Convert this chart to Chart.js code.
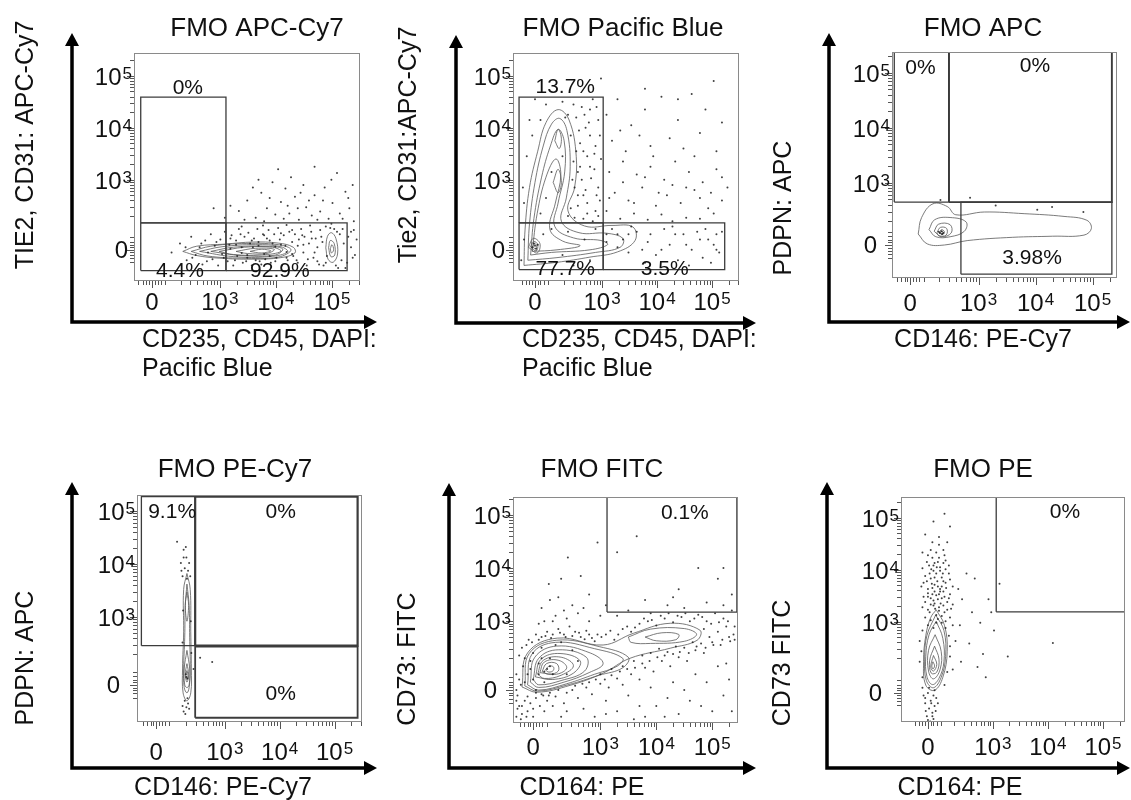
<!DOCTYPE html>
<html>
<head>
<meta charset="utf-8">
<title>FMO controls</title>
<script src="https://cdn.jsdelivr.net/npm/chart.js@4.4.1/dist/chart.umd.min.js"></script>
<style>
  body { margin: 0; background: #fff; }
  #wrap { position: relative; width: 1131px; height: 800px; overflow: hidden; background: #fff; }
  #wrap canvas { position: absolute; }
</style>
</head>
<body>
<div id="wrap">
  <canvas id="p1"></canvas>
  <canvas id="p2"></canvas>
  <canvas id="p3"></canvas>
  <canvas id="p4"></canvas>
  <canvas id="p5"></canvas>
  <canvas id="p6"></canvas>
</div>
<script>
// axis units: 1 = one decade, 0 = zero of the biexponential display
var tickLabels = ['0', '10^3', '10^4', '10^5'];

var titles = ['FMO APC-Cy7', 'FMO Pacific Blue', 'FMO APC', 'FMO PE-Cy7', 'FMO FITC', 'FMO PE'];
var xTitles = [
  ['CD235, CD45, DAPI:', 'Pacific Blue'],
  ['CD235, CD45, DAPI:', 'Pacific Blue'],
  ['CD146: PE-Cy7'],
  ['CD146: PE-Cy7'],
  ['CD164: PE'],
  ['CD164: PE'],
];
var yTitles = ['TIE2, CD31: APC-Cy7', 'Tie2, CD31:APC-Cy7', 'PDPN: APC', 'PDPN: APC', 'CD73: FITC', 'CD73 FITC'];

// ---------- FMO APC-Cy7 ----------
var p1XTicks = [0, 1.21, 2.21, 3.21];
var p1YTicks = [0, 1.35, 2.35, 3.35];
var p1XRange = [-0.32, 3.71];
var p1YRange = [-0.6, 3.79];
var p1Gates = [[-0.2, 0.52, 1.32, 2.94], [-0.2, -0.4, 1.32, 0.52], [1.32, -0.4, 3.48, 0.52]];
var p1GateLabels = [['0%', 0.64, 3.12], ['4.4%', 0.5, -0.42], ['92.9%', 2.28, -0.42]];
var p1Contours = [
  [[0.55, -0.03], [0.8, 0.07], [1.3, 0.11], [1.8, 0.15], [2.25, 0.13], [2.52, 0.05], [2.55, -0.06], [2.3, -0.15], [1.8, -0.18], [1.2, -0.16], [0.8, -0.11], [0.55, -0.03]],
  [[0.7, -0.03], [1.05, 0.07], [1.6, 0.12], [2.25, 0.1], [2.48, 0.0], [2.25, -0.14], [1.6, -0.16], [1.0, -0.12], [0.7, -0.03]],
  [[0.85, -0.03], [1.25, 0.06], [1.85, 0.1], [2.3, 0.06], [2.42, -0.04], [2.1, -0.13], [1.45, -0.13], [0.85, -0.03]],
  [[1.05, -0.03], [1.45, 0.05], [2.0, 0.07], [2.33, 0.02], [2.2, -0.1], [1.6, -0.11], [1.05, -0.03]],
  [[1.2, -0.03], [1.65, 0.05], [2.15, 0.05], [2.3, -0.03], [1.95, -0.1], [1.45, -0.09], [1.2, -0.03]],
  [[1.5, -0.03], [1.85, 0.03], [2.18, 0.01], [2.05, -0.07], [1.7, -0.07], [1.5, -0.03]],
  [[1.75, -0.03], [1.95, 0.01], [2.12, -0.02], [1.95, -0.06], [1.75, -0.03]],
  [[3.1, 0.04], [3.13, 0.26], [3.2, 0.33], [3.28, 0.22], [3.31, -0.08], [3.23, -0.24], [3.14, -0.18], [3.1, 0.04]],
  [[3.15, 0.04], [3.18, 0.18], [3.25, 0.12], [3.26, -0.1], [3.19, -0.13], [3.15, 0.04]],
  [[3.18, 0.02], [3.21, 0.1], [3.24, 0.0], [3.2, -0.06], [3.18, 0.02]],
];
var p1Dots = [
  [0.35, -0.05], [0.5, 0.12], [0.62, -0.2], [0.7, 0.25], [0.78, -0.1], [0.85, 0.05], [0.9, -0.28], [0.95, 0.18], [1.0, -0.05], [1.05, 0.3],
  [1.08, -0.18], [1.12, 0.08], [1.18, -0.3], [1.22, 0.2], [1.25, -0.08], [1.3, 0.35], [1.35, -0.22], [1.38, 0.1], [1.42, 0.28], [1.45, -0.3],
  [1.5, 0.18], [1.52, -0.12], [1.55, 0.4], [1.6, 0.05], [1.62, -0.25], [1.65, 0.25], [1.7, -0.15], [1.72, 0.33], [1.75, 0.12], [1.78, -0.3],
  [1.82, 0.22], [1.85, -0.2], [1.88, 0.4], [1.9, 0.15], [1.95, -0.28], [1.98, 0.3], [2.02, -0.18], [2.05, 0.22], [2.08, 0.38], [2.12, -0.25],
  [2.15, 0.12], [2.18, 0.3], [2.22, -0.15], [2.25, 0.42], [2.28, 0.2], [2.32, -0.3], [2.35, 0.28], [2.38, 0.08], [2.42, -0.2], [2.45, 0.35],
  [2.5, 0.15], [2.52, -0.12], [2.55, 0.3], [2.6, -0.25], [2.62, 0.2], [2.66, 0.4], [2.7, -0.05], [2.72, 0.25], [2.76, -0.3], [2.8, 0.12],
  [2.84, 0.35], [2.88, -0.15], [2.92, 0.22], [2.95, 0.05], [2.98, -0.28], [3.0, 0.38], [3.04, 0.15], [3.06, -0.3], [3.1, 0.45], [3.35, 0.3],
  [3.38, -0.2], [3.42, 0.12], [3.45, -0.35], [3.5, 0.25], [3.55, 0.05], [3.58, -0.15], [3.6, 0.38],
  [1.55, 0.75], [1.7, 0.95], [1.85, 0.62], [1.95, 1.1], [2.05, 0.8], [2.15, 1.3], [2.2, 0.68], [2.3, 0.92], [2.38, 1.18], [2.45, 0.7],
  [2.55, 1.02], [2.62, 0.58], [2.7, 1.25], [2.75, 0.82], [2.85, 0.66], [2.9, 1.05], [3.0, 0.74], [3.08, 1.2], [3.15, 0.6], [3.22, 0.9],
  [3.3, 1.48], [3.35, 0.7], [3.45, 1.12], [3.52, 0.8], [3.6, 0.55], [1.3, 0.62], [1.1, 0.8], [2.48, 1.4], [1.9, 1.35],
  [1.4, 0.02], [1.6, -0.06], [1.8, 0.05], [2.0, -0.08], [2.2, 0.06], [2.4, -0.04], [2.6, 0.08], [1.5, 0.1], [1.7, -0.1], [1.9, 0.08],
  [2.1, -0.12], [2.3, 0.1], [2.5, -0.08], [2.7, 0.1], [2.9, -0.05], [3.12, -0.12], [3.25, 0.4], [3.28, -0.3],
  [0.6, 0.05], [0.72, -0.15], [0.88, 0.12], [0.98, -0.22], [1.15, 0.15], [1.28, -0.15], [1.4, 0.22], [1.48, -0.2], [1.58, 0.3], [1.68, -0.22],
  [1.78, 0.18], [1.92, -0.22], [2.0, 0.28], [2.1, 0.18], [2.2, -0.22], [2.3, 0.32], [2.4, -0.15], [2.5, 0.38], [2.58, -0.2], [2.68, 0.28],
  [2.78, -0.18], [2.85, 0.22], [2.95, -0.22], [3.02, 0.25], [3.1, -0.25], [3.18, 0.42], [3.3, 0.35], [3.32, -0.35], [3.4, 0.4], [3.48, -0.25],
  [3.55, 0.35], [3.62, -0.1], [3.65, 0.2], [1.6, 0.45], [1.98, 0.47], [2.4, 0.48], [2.82, 0.47], [3.2, 0.5],
  [1.4, 0.85], [1.65, 0.58], [1.8, 1.2], [2.0, 0.55], [2.1, 1.0], [2.35, 0.6], [2.42, 0.85], [2.6, 0.8], [2.65, 1.1], [2.8, 0.95],
  [2.95, 0.58], [3.05, 0.95], [3.2, 1.35], [3.4, 0.6], [3.5, 1.0], [3.58, 1.25], [2.25, 1.55], [2.9, 1.6],
];

// ---------- FMO Pacific Blue ----------
var p2XTicks = [0, 1.22, 2.22, 3.22];
var p2YTicks = [0, 1.35, 2.35, 3.35];
var p2XRange = [-0.4, 3.71];
var p2YRange = [-0.6, 3.79];
var p2Gates = [[-0.29, 0.52, 1.24, 2.94], [-0.29, -0.38, 1.24, 0.52], [1.24, -0.38, 3.45, 0.52]];
var p2GateLabels = [['13.7%', 0.55, 3.13], ['77.7%', 0.55, -0.38], ['3.5%', 2.36, -0.38]];
var p2Contours = [
  [[-0.2, -0.3], [-0.18, 0.4], [-0.1, 1.2], [0.05, 1.9], [0.2, 2.45], [0.42, 2.7], [0.62, 2.5], [0.75, 1.8], [0.72, 1.2], [0.6, 0.75], [0.9, 0.46], [1.4, 0.47], [1.78, 0.44], [1.82, 0.18], [1.5, -0.04], [1.0, -0.14], [0.4, -0.24], [-0.2, -0.3]],
  [[-0.13, -0.2], [-0.1, 0.5], [0.0, 1.3], [0.15, 2.0], [0.3, 2.42], [0.45, 2.53], [0.58, 2.3], [0.64, 1.6], [0.57, 1.0], [0.48, 0.55], [0.8, 0.33], [1.3, 0.32], [1.6, 0.22], [1.55, 0.05], [1.1, -0.05], [0.4, -0.15], [-0.13, -0.2]],
  [[-0.08, -0.1], [-0.02, 0.6], [0.12, 1.4], [0.28, 2.0], [0.42, 2.32], [0.53, 2.1], [0.54, 1.5], [0.42, 0.9], [0.36, 0.45], [0.7, 0.23], [1.2, 0.18], [1.32, 0.1], [1.0, 0.0], [0.3, -0.05], [-0.08, -0.1]],
  [[-0.05, -0.03], [0.04, 0.7], [0.2, 1.4], [0.38, 1.75], [0.47, 1.45], [0.37, 0.9], [0.27, 0.4], [0.5, 0.17], [0.82, 0.08], [0.4, 0.0], [-0.05, -0.03]],
  [[0.36, 2.1], [0.42, 2.32], [0.48, 2.15], [0.44, 1.95], [0.36, 2.1]],
  [[0.33, 1.3], [0.42, 1.55], [0.48, 1.3], [0.42, 1.1], [0.33, 1.3]],
  [[-0.12, 0.05], [-0.03, 0.22], [0.09, 0.12], [0.04, -0.06], [-0.12, 0.05]],
  [[-0.08, 0.06], [-0.02, 0.16], [0.05, 0.1], [0.02, -0.02], [-0.08, 0.06]],
  [[-0.04, 0.07], [0.0, 0.12], [0.03, 0.07], [0.0, 0.02], [-0.04, 0.07]],
];
var p2Dots = [
  [0.7, 2.8], [0.9, 2.6], [1.05, 2.9], [0.8, 2.3], [1.0, 2.2], [1.15, 2.5], [0.75, 1.9], [0.95, 1.8], [1.1, 2.0], [0.78, 1.5],
  [0.85, 1.35], [1.0, 1.6], [1.15, 1.2], [0.78, 1.05], [0.95, 0.9], [1.1, 0.75], [0.65, 0.8], [0.88, 0.6], [1.05, 0.55], [1.18, 0.95],
  [0.6, 2.6], [0.2, 2.8], [-0.1, 2.5], [-0.15, 1.8], [0.0, 2.9], [1.2, 1.75], [0.72, 1.2], [1.12, 2.75], [0.92, 1.15], [0.82, 2.05],
  [1.02, 1.38], [-0.22, 1.2], [0.72, 0.62], [0.5, 2.85], [1.18, 2.2], [0.98, 2.45], [0.85, 2.75], [1.08, 1.85],
  [0.65, 2.2], [0.75, 2.55], [0.7, 1.7], [0.82, 1.6], [0.88, 1.9], [0.92, 2.35], [1.0, 2.7], [0.78, 0.85], [0.95, 0.7], [1.12, 1.05],
  [0.68, 1.35], [0.6, 0.65], [1.08, 1.55], [1.15, 0.65], [0.88, 1.05], [-0.05, 2.2], [0.1, 2.5], [-0.2, 0.9],
  [1.3, 2.6], [1.5, 2.9], [1.75, 2.4], [2.0, 2.7], [2.3, 2.95], [2.6, 2.5], [2.85, 3.0], [3.1, 2.7], [3.4, 2.45], [1.4, 2.1],
  [1.65, 1.9], [1.9, 2.2], [2.15, 1.8], [2.45, 2.15], [2.7, 1.95], [3.0, 2.25], [3.3, 1.9], [1.35, 1.5], [1.6, 1.7], [1.85, 1.45],
  [2.1, 1.6], [2.35, 1.35], [2.55, 1.7], [2.8, 1.5], [3.05, 1.3], [3.3, 1.55], [3.5, 1.2], [1.45, 1.1], [1.7, 0.95], [1.95, 1.2],
  [2.2, 0.85], [2.4, 1.05], [2.65, 0.9], [2.9, 1.15], [3.15, 0.8], [3.4, 0.95], [1.3, 0.75], [1.55, 0.6], [1.8, 0.7], [2.05, 0.58],
  [2.3, 0.68], [2.5, 0.55], [2.75, 0.62], [3.0, 0.6], [3.25, 0.7], [2.0, 3.1], [3.25, 3.25], [1.2, 3.3],
  [1.35, 1.0], [1.6, 1.3], [1.8, 0.9], [2.0, 1.4], [2.25, 1.1], [2.5, 1.25], [2.75, 1.2], [3.0, 1.0], [3.2, 1.1], [3.4, 1.4],
  [2.1, 2.0], [2.6, 2.9], [2.9, 1.8], [1.55, 2.3],
  [1.4, 0.4], [1.6, 0.2], [1.85, 0.35], [1.95, 0.0], [2.1, 0.3], [2.2, -0.1], [2.35, 0.4], [2.45, 0.1], [2.6, -0.2], [2.7, 0.3],
  [2.85, 0.0], [2.95, 0.35], [3.05, -0.15], [3.15, 0.2], [3.25, 0.1], [3.3, 0.0], [3.35, -0.05], [3.4, 0.35], [2.5, 0.45], [2.0, -0.25],
  [1.7, -0.05], [2.8, -0.3], [3.2, -0.25], [1.3, 0.3], [1.5, 0.05], [1.75, 0.45], [2.05, 0.15], [2.3, 0.0], [2.55, 0.3], [2.75, 0.1],
  [3.0, 0.2], [3.3, 0.3], [3.1, 0.4],
  [0.6, 0.35], [0.9, 0.2], [1.1, 0.4], [0.3, 0.4], [0.7, -0.3], [1.0, -0.2], [0.5, -0.1], [0.15, 0.3], [-0.2, 0.2], [-0.25, -0.2],
  [0.3, 1.5], [0.5, 1.8], [0.2, 1.0], [0.55, 2.55], [0.1, 0.7], [1.5, 0.3], [1.3, 0.15], [1.7, 0.3],
  [-0.05, 0.05], [0.0, 0.08], [0.02, 0.02], [-0.02, 0.12], [0.05, 0.1],
];

// ---------- FMO APC ----------
var p3XTicks = [0, 1.2, 2.2, 3.2];
var p3YTicks = [0, 1.13, 2.13, 3.13];
var p3XRange = [-0.32, 3.63];
var p3YRange = [-0.6, 3.51];
var p3Gates = [[-0.28, 0.78, 0.68, 3.51], [0.68, 0.78, 3.54, 3.51], [0.89, -0.53, 3.54, 0.78]];
var p3GateLabels = [['0%', 0.18, 3.22], ['0%', 2.19, 3.26], ['3.98%', 2.14, -0.24]];
var p3Contours = [
  [[0.14, 0.2], [0.2, 0.5], [0.4, 0.75], [0.65, 0.7], [0.8, 0.55], [1.3, 0.6], [2.0, 0.57], [2.7, 0.52], [3.1, 0.45], [3.18, 0.3], [3.05, 0.18], [2.5, 0.16], [1.8, 0.14], [1.0, 0.08], [0.6, 0.0], [0.3, 0.02], [0.14, 0.2]],
  [[0.33, 0.28], [0.43, 0.46], [0.7, 0.5], [0.98, 0.42], [0.95, 0.25], [0.7, 0.15], [0.45, 0.15], [0.33, 0.28]],
  [[0.42, 0.25], [0.5, 0.38], [0.7, 0.37], [0.72, 0.22], [0.55, 0.15], [0.42, 0.25]],
  [[0.47, 0.23], [0.53, 0.32], [0.64, 0.3], [0.63, 0.18], [0.5, 0.17], [0.47, 0.23]],
  [[0.51, 0.22], [0.55, 0.28], [0.6, 0.24], [0.57, 0.19], [0.51, 0.22]],
  [[0.53, 0.22], [0.55, 0.25], [0.58, 0.23], [0.55, 0.2], [0.53, 0.22]],
];
var p3Dots = [
  [0.53, 0.82], [1.05, 0.86], [2.23, 0.64], [2.49, 0.69], [3.04, 0.6], [1.5, 0.72],
  [0.52, 0.22], [0.56, 0.2], [0.55, 0.25], [0.5, 0.24], [0.58, 0.22],
];

// ---------- FMO PE-Cy7 ----------
var p4XTicks = [0, 1.25, 2.25, 3.25];
var p4YTicks = [0, 1.28, 2.28, 3.28];
var p4XRange = [-0.35, 3.75];
var p4YRange = [-0.7, 3.58];
var p4Gates = [[-0.27, 0.74, 0.71, 3.55], [0.71, 0.74, 3.67, 3.55], [0.71, -0.62, 3.67, 0.72]];
var p4GateLabels = [['9.1%', 0.29, 3.25], ['0%', 2.27, 3.26], ['0%', 2.27, -0.17]];
var p4Contours = [
  [[0.56, 2.1], [0.62, 1.8], [0.63, 1.0], [0.64, 0.3], [0.63, -0.15], [0.56, -0.3], [0.49, -0.15], [0.48, 0.3], [0.5, 1.0], [0.5, 1.8], [0.56, 2.1]],
  [[0.56, 1.9], [0.6, 1.5], [0.61, 0.9], [0.62, 0.3], [0.6, -0.05], [0.56, -0.15], [0.51, -0.05], [0.5, 0.3], [0.52, 0.9], [0.53, 1.5], [0.56, 1.9]],
  [[0.56, 1.75], [0.59, 1.5], [0.56, 1.2], [0.53, 1.5], [0.56, 1.75]],
  [[0.56, 0.65], [0.61, 0.3], [0.6, 0.0], [0.56, -0.05], [0.52, 0.0], [0.51, 0.3], [0.56, 0.65]],
  [[0.56, 0.4], [0.59, 0.2], [0.56, 0.05], [0.53, 0.2], [0.56, 0.4]],
  [[0.56, 0.27], [0.58, 0.17], [0.56, 0.1], [0.54, 0.17], [0.56, 0.27]],
];
var p4Dots = [
  [0.38, 2.7], [0.5, 2.55], [0.55, 2.4], [0.45, 2.3], [0.52, 2.2], [0.58, 2.15], [0.48, 2.05], [0.56, 2.0], [0.6, 2.3], [0.5, 2.4],
  [0.54, 2.6], [0.46, 2.15], [0.62, 2.05], [0.49, 1.4], [0.63, 1.2], [0.48, 0.8], [0.64, 0.6],
  [0.52, -0.3], [0.58, -0.35], [0.55, -0.42], [0.5, -0.5], [0.6, -0.45], [0.53, -0.55], [0.57, -0.25], [0.48, -0.4],
  [0.8, 0.51], [1.02, 0.43], [0.68, 0.3], [0.55, 0.15], [0.57, 0.12], [0.54, 0.2],
];

// ---------- FMO FITC ----------
var p5XTicks = [0, 1.2, 2.2, 3.2];
var p5YTicks = [0, 1.3, 2.3, 3.3];
var p5XRange = [-0.36, 3.66];
var p5YRange = [-0.62, 3.64];
var p5Gates = [[1.32, 1.47, 3.64, 3.64]];
var p5GateLabels = [['0.1%', 2.71, 3.34]];
var p5Contours = [
  [[-0.2, 0.06], [-0.1, 0.7], [0.43, 0.98], [1.25, 0.85], [1.79, 1.07], [2.45, 1.26], [2.98, 1.13], [2.93, 0.94], [2.45, 0.79], [1.73, 0.6], [1.25, 0.32], [0.66, 0.09], [0.07, -0.04], [-0.2, 0.06]],
  [[-0.15, 0.08], [-0.07, 0.69], [0.42, 0.94], [1.18, 0.82], [1.7, 0.62], [1.6, 0.42], [1.18, 0.28], [0.62, 0.1], [0.08, -0.02], [-0.15, 0.08]],
  [[-0.1, 0.1], [-0.02, 0.68], [0.4, 0.9], [1.1, 0.78], [1.6, 0.6], [1.5, 0.45], [1.1, 0.3], [0.6, 0.12], [0.1, 0.0], [-0.1, 0.1]],
  [[-0.05, 0.15], [0.03, 0.62], [0.42, 0.83], [1.02, 0.7], [1.25, 0.5], [1.0, 0.33], [0.55, 0.15], [0.1, 0.05], [-0.05, 0.15]],
  [[0.0, 0.2], [0.1, 0.6], [0.45, 0.76], [0.95, 0.62], [0.92, 0.36], [0.5, 0.18], [0.1, 0.1], [0.0, 0.2]],
  [[0.04, 0.25], [0.14, 0.58], [0.48, 0.69], [0.84, 0.55], [0.72, 0.32], [0.35, 0.2], [0.04, 0.25]],
  [[0.08, 0.3], [0.18, 0.56], [0.5, 0.62], [0.72, 0.46], [0.5, 0.28], [0.2, 0.22], [0.08, 0.3]],
  [[0.12, 0.33], [0.2, 0.53], [0.46, 0.56], [0.6, 0.42], [0.42, 0.3], [0.12, 0.33]],
  [[0.16, 0.35], [0.24, 0.5], [0.42, 0.5], [0.45, 0.36], [0.28, 0.3], [0.16, 0.35]],
  [[0.22, 0.38], [0.28, 0.45], [0.36, 0.44], [0.36, 0.37], [0.28, 0.34], [0.22, 0.38]],
  [[1.7, 1.0], [2.1, 1.15], [2.7, 1.16], [2.92, 1.05], [2.7, 0.92], [2.1, 0.88], [1.75, 0.9], [1.7, 1.0]],
  [[2.0, 1.0], [2.3, 1.08], [2.6, 1.05], [2.55, 0.95], [2.2, 0.93], [2.0, 1.0]],
];
var p5Dots = [
  [-0.3, -0.5], [-0.25, -0.3], [-0.2, -0.45], [-0.28, -0.1], [-0.15, -0.2], [-0.1, -0.4], [-0.22, 0.1], [-0.3, 0.3], [-0.18, 0.45], [-0.25, 0.65],
  [-0.12, 0.85], [-0.05, -0.25], [0.0, -0.35], [0.05, -0.15], [0.12, -0.3], [0.18, -0.1], [0.25, -0.2], [0.3, -0.05], [-0.08, 0.95], [0.05, 1.05],
  [0.15, 1.0], [0.25, 1.1], [0.35, 1.05], [0.45, 1.15], [0.55, 1.05], [0.65, 1.2], [0.75, 1.1], [0.85, 1.0], [0.95, 1.12], [1.05, 0.98],
  [1.15, 1.05], [0.2, 1.3], [0.4, 1.4], [0.6, 1.35], [0.8, 1.45], [1.0, 1.3], [0.3, 1.7], [0.7, 1.6], [0.5, 2.1], [0.28, 2.0],
  [0.62, 2.5], [1.15, 2.78],
  [0.4, -0.12], [0.55, -0.25], [0.7, 0.0], [0.8, -0.15], [0.95, 0.05], [1.05, -0.08], [1.2, 0.12], [1.35, 0.05], [1.5, 0.22], [1.6, 0.1],
  [1.75, 0.3], [1.9, 0.2], [2.0, 0.42], [2.15, 0.35], [2.3, 0.55], [2.45, 0.45], [2.6, 0.62], [2.75, 0.55], [2.9, 0.75], [3.05, 0.7],
  [3.2, 0.9], [3.35, 0.85], [3.5, 1.0], [3.6, 0.95], [1.3, -0.2], [1.7, -0.1], [2.1, 0.05], [2.5, 0.15], [2.9, 0.3], [3.3, 0.45],
  [0.9, -0.35], [1.5, -0.4], [2.2, -0.3], [2.8, -0.2], [3.4, -0.1], [2.0, -0.5], [1.1, -0.5],
  [1.3, 1.05], [1.45, 0.95], [1.6, 1.15], [1.75, 1.1], [1.9, 1.25], [2.05, 1.3], [2.2, 1.22], [2.35, 1.35], [2.5, 1.28], [2.65, 1.38],
  [2.8, 1.3], [2.95, 1.42], [3.1, 1.3], [3.25, 1.45], [3.4, 1.35], [3.55, 1.5], [3.6, 1.2], [3.05, 1.15], [3.3, 1.1], [3.45, 1.2],
  [2.1, 1.45], [2.7, 1.55], [3.4, 1.6], [2.4, 1.6], [1.5, 1.4],
  [1.8, 0.55], [1.95, 0.65], [2.1, 0.7], [2.25, 0.78], [2.4, 0.72], [2.55, 0.82], [2.7, 0.8], [2.85, 0.9], [3.0, 0.88], [3.15, 1.0],
  [1.6, 0.45], [1.4, 0.4], [1.2, 0.3],
  [0.0, 0.2], [0.1, 0.5], [0.2, 0.15], [0.3, 0.6], [0.15, 0.8], [-0.05, 0.55], [0.4, 0.85], [0.5, 0.9], [0.6, 0.3], [0.7, 0.75],
  [0.8, 0.55], [0.35, 0.3], [-0.1, 0.3], [0.05, 0.0], [0.25, 0.4], [0.3, 0.45], [0.2, 0.35],
  [1.5, 2.6], [1.85, 2.9], [2.6, 1.9], [3.3, 2.1], [3.4, 2.3], [2.95, 2.3],
  [0.5, -0.5], [1.8, -0.55], [2.6, -0.45], [3.2, -0.4], [3.5, 0.2],
  [-0.02, 0.9], [0.1, 0.95], [0.22, 1.02], [0.32, 0.98], [0.48, 1.08], [0.58, 1.0], [0.7, 1.02], [0.82, 1.08], [0.92, 0.96], [1.0, 1.05],
  [1.1, 0.92], [1.22, 1.0], [1.38, 1.12], [1.52, 1.05], [1.68, 1.2], [1.82, 1.18], [1.98, 1.35], [2.12, 1.32], [2.28, 1.4], [2.42, 1.45],
  [2.58, 1.4], [2.72, 1.45], [2.88, 1.35], [3.02, 1.38], [3.18, 1.25], [3.32, 1.28], [3.48, 1.3], [3.58, 1.05],
  [0.15, -0.08], [0.28, -0.1], [0.45, 0.0], [0.6, -0.05], [0.75, 0.08], [0.88, 0.12], [1.0, 0.15], [1.12, 0.2], [1.28, 0.2], [1.4, 0.28],
  [1.55, 0.35], [1.68, 0.4], [1.82, 0.42], [1.95, 0.5], [2.08, 0.55], [2.22, 0.62], [2.35, 0.65], [2.5, 0.68], [2.62, 0.72], [2.78, 0.7],
  [2.92, 0.82], [3.08, 0.8], [3.22, 0.85], [3.38, 0.95], [3.52, 0.92],
  [-0.28, -0.35], [-0.3, 0.0], [-0.2, -0.3], [-0.25, 0.2], [-0.15, 0.6], [-0.2, 0.8], [-0.1, -0.12], [-0.05, 0.4], [-0.15, 0.15], [0.0, 0.7],
  [0.1, 0.3], [0.15, 0.6], [0.05, -0.05], [-0.3, -0.2], [-0.22, -0.55], [-0.12, -0.5], [0.0, -0.5], [0.2, -0.4], [0.35, -0.3],
  [0.1, 1.25], [0.35, 1.3], [0.55, 1.5], [0.9, 1.55], [1.2, 1.4], [0.15, 1.55], [0.45, 1.75], [1.0, 1.8], [1.3, 1.6], [0.85, 2.15],
  [1.7, 1.5], [2.0, 1.7], [2.5, 1.75], [3.1, 1.65], [3.55, 1.8],
  [0.6, -0.4], [1.3, -0.45], [2.4, -0.15], [2.7, 0.0], [3.0, -0.3], [3.55, -0.4], [1.9, -0.3], [2.35, -0.5], [3.1, 0.15], [3.45, 0.5],
];

// ---------- FMO PE ----------
var p6XTicks = [0, 1.18, 2.18, 3.18];
var p6YTicks = [0, 1.37, 2.37, 3.37];
var p6XRange = [-0.49, 3.58];
var p6YRange = [-0.56, 3.77];
var p6Gates = [[1.24, 1.56, 3.58, 3.77]];
var p6GateLabels = [['0%', 2.49, 3.48]];
var p6Contours = [
  [[0.15, 1.6], [0.3, 1.3], [0.35, 0.8], [0.27, 0.3], [0.12, 0.05], [-0.04, 0.15], [-0.08, 0.6], [-0.04, 1.1], [0.05, 1.45], [0.15, 1.6]],
  [[0.14, 1.5], [0.29, 1.2], [0.32, 0.7], [0.24, 0.3], [0.1, 0.1], [-0.03, 0.24], [-0.06, 0.65], [-0.02, 1.1], [0.14, 1.5]],
  [[0.15, 1.38], [0.27, 1.05], [0.29, 0.6], [0.2, 0.28], [0.08, 0.16], [-0.02, 0.32], [-0.04, 0.7], [0.02, 1.12], [0.15, 1.38]],
  [[0.13, 1.12], [0.24, 0.8], [0.22, 0.45], [0.1, 0.27], [0.01, 0.42], [0.01, 0.82], [0.13, 1.12]],
  [[0.12, 0.9], [0.2, 0.65], [0.16, 0.4], [0.06, 0.38], [0.03, 0.62], [0.12, 0.9]],
  [[0.1, 0.72], [0.16, 0.55], [0.1, 0.42], [0.05, 0.5], [0.1, 0.72]],
  [[0.09, 0.6], [0.12, 0.52], [0.09, 0.46], [0.07, 0.52], [0.09, 0.6]],
];
var p6Dots = [
  [0.0, 1.3], [0.1, 1.25], [0.25, 1.35], [-0.05, 1.45], [0.15, 1.5], [0.3, 1.55], [0.4, 1.45], [-0.1, 1.65], [0.05, 1.7], [0.2, 1.65],
  [0.35, 1.75], [0.45, 1.7], [-0.08, 1.85], [0.08, 1.9], [0.18, 1.8], [0.28, 1.95], [0.4, 1.9], [-0.12, 2.05], [0.0, 2.0], [0.12, 2.08],
  [0.22, 2.0], [0.32, 2.12], [0.45, 2.05], [-0.05, 2.25], [0.05, 2.2], [0.15, 2.3], [0.25, 2.22], [0.38, 2.3], [-0.1, 2.4], [0.02, 2.45],
  [0.12, 2.5], [0.22, 2.42], [0.32, 2.55], [0.0, 2.65], [0.15, 2.7], [0.28, 2.75], [0.08, 2.9], [0.2, 3.0], [-0.05, 3.05], [0.35, 2.9],
  [0.4, 3.2], [0.1, 3.3], [0.3, 3.45],
  [0.03, 1.55], [0.13, 1.62], [0.23, 1.72], [0.1, 1.78], [0.0, 1.85], [0.2, 1.9], [0.3, 1.85], [0.07, 2.1], [0.17, 2.15], [0.27, 2.3],
  [0.1, 2.35], [0.2, 2.6], [0.05, 1.4], [0.18, 1.42], [0.35, 1.6], [-0.02, 2.15], [0.12, 1.95], [0.25, 2.05], [0.08, 2.6], [0.38, 2.45],
  [0.0, 1.6], [0.1, 1.68], [0.2, 1.58], [0.28, 1.68], [0.38, 1.82], [-0.05, 1.75], [0.05, 1.82], [0.15, 1.88], [0.25, 1.82], [0.33, 2.02],
  [0.0, 1.92], [0.08, 2.02], [0.18, 2.05], [0.28, 2.15], [0.4, 2.18], [-0.08, 2.12], [0.03, 2.3], [0.12, 2.22], [0.22, 2.35], [0.32, 2.38],
  [-0.02, 2.52], [0.1, 2.45], [0.18, 2.52], [0.28, 2.5], [0.05, 2.75], [0.2, 2.85], [0.3, 2.65], [-0.1, 2.7], [0.15, 1.35], [0.25, 1.48],
  [0.32, 1.38], [0.42, 1.62], [0.12, 1.72], [0.22, 1.95], [0.06, 2.38], [0.16, 2.42],
  [-0.15, 1.0], [-0.15, 0.6], [-0.1, 0.3], [0.38, 1.1], [0.4, 0.7], [0.35, 0.4], [0.3, 0.15], [-0.1, 0.1], [0.45, 1.3], [0.5, 1.0],
  [-0.12, 0.8], [0.4, 0.9], [0.32, 1.25], [-0.1, 1.2], [0.45, 0.45],
  [0.0, 0.0], [0.1, -0.05], [0.05, -0.15], [-0.05, -0.2], [0.12, -0.25], [0.02, -0.3], [0.08, -0.38], [-0.02, -0.45], [0.1, -0.5], [0.04, -0.55],
  [0.15, -0.1], [-0.08, -0.05], [0.02, 0.1], [0.12, 0.05], [-0.05, -0.1], [0.06, -0.2], [0.14, -0.35], [-0.04, -0.35], [0.08, -0.45], [0.0, -0.52],
  [0.18, -0.2],
  [0.55, 2.0], [0.7, 2.3], [0.62, 1.8], [0.8, 1.55], [0.58, 1.3], [0.75, 0.95], [0.6, 0.6], [0.9, 0.5], [1.0, 0.75], [1.2, 1.2],
  [0.85, 2.2], [1.1, 1.8], [1.05, 0.3], [1.45, 0.7], [1.3, 2.1], [2.27, 0.96], [1.15, 1.55], [0.95, 1.35],
];

// page layout of the six panels (pixels)
var plots = [
  { id: 'p1', cell: [0, 0, 378, 400], frame: [134, 53, 360, 281], xTicks: p1XTicks, yTicks: p1YTicks, xRange: p1XRange, yRange: p1YRange,
    gates: p1Gates, gateLabels: p1GateLabels, contours: p1Contours, dots: p1Dots, title: titles[0], xTitle: xTitles[0], yTitle: yTitles[0],
    titleAt: [257, 36], arrow: [72, 322, 33, 377], xTitleAt: [142, 347, 'left'], yTitleAt: [33, 145], xLabelY: 310, zeroGap: 6, gateWidth: [1.3, 1.3, 1.3] },
  { id: 'p2', cell: [378, 0, 378, 400], frame: [513, 53, 739, 281], xTicks: p2XTicks, yTicks: p2YTicks, xRange: p2XRange, yRange: p2YRange,
    gates: p2Gates, gateLabels: p2GateLabels, contours: p2Contours, dots: p2Dots, title: titles[1], xTitle: xTitles[1], yTitle: yTitles[1],
    titleAt: [623, 36], arrow: [456, 323, 35, 756], xTitleAt: [522, 347, 'left'], yTitleAt: [416, 145], xLabelY: 310, zeroGap: 8, gateWidth: [1.3, 1.3, 1.3] },
  { id: 'p3', cell: [756, 0, 375, 400], frame: [892, 52, 1117, 278], xTicks: p3XTicks, yTicks: p3YTicks, xRange: p3XRange, yRange: p3YRange,
    gates: p3Gates, gateLabels: p3GateLabels, contours: p3Contours, dots: p3Dots, title: titles[2], xTitle: xTitles[2], yTitle: yTitles[2],
    titleAt: [983, 36], arrow: [829, 322, 33, 1130], xTitleAt: [983, 347, 'center'], yTitleAt: [791, 208], xLabelY: 311, zeroGap: 15, gateWidth: [1.3, 1.9, 1.3] },
  { id: 'p4', cell: [0, 400, 378, 400], frame: [137, 495, 362, 722], xTicks: p4XTicks, yTicks: p4YTicks, xRange: p4XRange, yRange: p4YRange,
    gates: p4Gates, gateLabels: p4GateLabels, contours: p4Contours, dots: p4Dots, title: titles[3], xTitle: xTitles[3], yTitle: yTitles[3],
    titleAt: [235, 477], arrow: [72, 768, 482, 377], xTitleAt: [223, 795, 'center'], yTitleAt: [33, 658], xLabelY: 760, zeroGap: 17, gateWidth: [1.3, 2.2, 1.8] },
  { id: 'p5', cell: [378, 400, 378, 400], frame: [513, 497, 738, 723], xTicks: p5XTicks, yTicks: p5YTicks, xRange: p5XRange, yRange: p5YRange,
    gates: p5Gates, gateLabels: p5GateLabels, contours: p5Contours, dots: p5Dots, title: titles[4], xTitle: xTitles[4], yTitle: yTitles[4],
    titleAt: [602, 477], arrow: [449, 768, 483, 756], xTitleAt: [582, 795, 'center'], yTitleAt: [415, 659], xLabelY: 755, zeroGap: 16, gateWidth: [1.3] },
  { id: 'p6', cell: [756, 400, 375, 400], frame: [901, 497, 1125, 722], xTicks: p6XTicks, yTicks: p6YTicks, xRange: p6XRange, yRange: p6YRange,
    gates: p6Gates, gateLabels: p6GateLabels, contours: p6Contours, dots: p6Dots, title: titles[5], xTitle: xTitles[5], yTitle: yTitles[5],
    titleAt: [983, 477], arrow: [827, 768, 482, 1130], xTitleAt: [960, 795, 'center'], yTitleAt: [790, 663], xLabelY: 755, zeroGap: 19, gateWidth: [1.3] },
];

var FONT = "'Liberation Sans', Arial, Helvetica, sans-serif";

function toPoints(arr) {
  return arr.map(function (p) { return { x: p[0], y: p[1] }; });
}

function gatePoints(g) {
  return [{ x: g[0], y: g[1] }, { x: g[2], y: g[1] }, { x: g[2], y: g[3] }, { x: g[0], y: g[3] }, { x: g[0], y: g[1] }];
}

// log minor ticks between the labelled decades, plus the crowded marks around zero
function minorTicks(major, range) {
  var out = [];
  var c = major[1];
  [c - 1, c, c + 1, c + 2].forEach(function (b) {
    for (var k = 2; k <= 9; k++) {
      var v = b + Math.log10(k);
      if (v > 0.4 && v < range[1]) out.push(v);
    }
  });
  [-0.24, -0.16, -0.1, -0.05, 0.05, 0.1, 0.16, 0.24].forEach(function (v) {
    if (v > range[0]) out.push(v);
  });
  return out;
}

// "10^3" -> 10 with a raised exponent
function drawTickLabel(ctx, label, x, y, align) {
  var parts = label.split('^');
  ctx.font = '24px ' + FONT;
  var wb = ctx.measureText(parts[0]).width;
  var we = 0;
  if (parts[1]) {
    ctx.font = '17px ' + FONT;
    we = ctx.measureText(parts[1]).width + 1;
  }
  var sx = align === 'right' ? x - wb - we : x - (wb + we) / 2;
  ctx.font = '24px ' + FONT;
  ctx.fillText(parts[0], sx, y);
  if (parts[1]) {
    ctx.font = '17px ' + FONT;
    ctx.fillText(parts[1], sx + wb + 1, y - 6);
  }
}

function decor(p) {
  return {
    id: 'flowDecor',
    afterDatasetsDraw: function (chart) {
      var ctx = chart.ctx;
      var a = chart.chartArea;
      var xs = chart.scales.x, ys = chart.scales.y;
      var ox = p.cell[0], oy = p.cell[1];
      ctx.save();

      // plot frame
      ctx.strokeStyle = '#8a8a8a';
      ctx.lineWidth = 1;
      ctx.strokeRect(a.left + 0.5, a.top + 0.5, a.right - a.left - 1, a.bottom - a.top - 1);

      // tick marks
      ctx.strokeStyle = '#555';
      ctx.beginPath();
      p.xTicks.forEach(function (v) {
        var px = Math.round(xs.getPixelForValue(v)) + 0.5;
        ctx.moveTo(px, a.bottom); ctx.lineTo(px, a.bottom + 7);
      });
      minorTicks(p.xTicks, p.xRange).forEach(function (v) {
        var px = Math.round(xs.getPixelForValue(v)) + 0.5;
        ctx.moveTo(px, a.bottom); ctx.lineTo(px, a.bottom + 4);
      });
      p.yTicks.forEach(function (v) {
        var py = Math.round(ys.getPixelForValue(v)) + 0.5;
        ctx.moveTo(a.left, py); ctx.lineTo(a.left - 7, py);
      });
      minorTicks(p.yTicks, p.yRange).forEach(function (v) {
        var py = Math.round(ys.getPixelForValue(v)) + 0.5;
        ctx.moveTo(a.left, py); ctx.lineTo(a.left - 4, py);
      });
      ctx.stroke();

      ctx.fillStyle = '#111';
      ctx.textAlign = 'left';
      ctx.textBaseline = 'alphabetic';

      // tick labels
      p.xTicks.forEach(function (v, i) {
        drawTickLabel(ctx, tickLabels[i], xs.getPixelForValue(v), p.xLabelY - oy, 'center');
      });
      p.yTicks.forEach(function (v, i) {
        var py = ys.getPixelForValue(v);
        if (i === 0) drawTickLabel(ctx, tickLabels[i], a.left - p.zeroGap, py + 8, 'right');
        else drawTickLabel(ctx, tickLabels[i], a.left - 2, py + 9, 'right');
      });

      // gate percentages
      ctx.font = '21px ' + FONT;
      ctx.textAlign = 'center';
      ctx.textBaseline = 'middle';
      p.gateLabels.forEach(function (g) {
        ctx.fillText(g[0], xs.getPixelForValue(g[1]), ys.getPixelForValue(g[2]));
      });

      // panel title
      ctx.textBaseline = 'alphabetic';
      ctx.font = '26px ' + FONT;
      ctx.fillText(p.title, p.titleAt[0] - ox, p.titleAt[1] - oy);

      // x axis title
      ctx.font = '25px ' + FONT;
      ctx.textAlign = p.xTitleAt[2];
      p.xTitle.forEach(function (line, i) {
        ctx.fillText(line, p.xTitleAt[0] - ox, p.xTitleAt[1] - oy + i * 29);
      });

      // y axis title
      ctx.save();
      ctx.translate(p.yTitleAt[0] - ox, p.yTitleAt[1] - oy);
      ctx.rotate(-Math.PI / 2);
      ctx.textAlign = 'center';
      ctx.fillText(p.yTitle, 0, 0);
      ctx.restore();

      // the heavy arrow axes
      var ax = p.arrow[0] - ox, ay = p.arrow[1] - oy, atop = p.arrow[2] - oy, atip = p.arrow[3] - ox;
      ctx.strokeStyle = '#000';
      ctx.fillStyle = '#000';
      ctx.lineWidth = 3.5;
      ctx.lineCap = 'butt';
      ctx.beginPath();
      ctx.moveTo(ax, ay + 1.75); ctx.lineTo(ax, atop + 11);
      ctx.moveTo(ax - 1.75, ay); ctx.lineTo(atip - 11, ay);
      ctx.stroke();
      ctx.beginPath();
      ctx.moveTo(ax, atop); ctx.lineTo(ax - 7, atop + 13); ctx.lineTo(ax + 7, atop + 13); ctx.closePath();
      ctx.moveTo(atip, ay); ctx.lineTo(atip - 13, ay - 7); ctx.lineTo(atip - 13, ay + 7); ctx.closePath();
      ctx.fill();

      ctx.restore();
    },
  };
}

plots.forEach(function (p) {
  var canvas = document.getElementById(p.id);
  var w = p.cell[2], h = p.cell[3];
  canvas.width = w;
  canvas.height = h;
  canvas.style.left = p.cell[0] + 'px';
  canvas.style.top = p.cell[1] + 'px';

  var fl = p.frame[0] - p.cell[0], ft = p.frame[1] - p.cell[1];
  var fr = p.frame[2] - p.cell[0], fb = p.frame[3] - p.cell[1];

  var datasets = [];
  p.gates.forEach(function (g, i) {
    datasets.push({
      data: gatePoints(g), showLine: true, tension: 0, pointRadius: 0,
      borderColor: '#3c3c3c', borderWidth: p.gateWidth[i], order: 0,
    });
  });
  datasets.push({
    data: toPoints(p.dots), pointRadius: 1, pointBorderWidth: 0,
    backgroundColor: 'rgba(30,30,30,0.85)', order: 1,
  });
  p.contours.forEach(function (c) {
    datasets.push({
      data: toPoints(c), showLine: true, tension: 0.4, pointRadius: 0,
      borderColor: 'rgba(90,90,90,0.8)', borderWidth: 1, order: 2,
    });
  });

  new Chart(canvas.getContext('2d'), {
    type: 'scatter',
    data: { datasets: datasets },
    options: {
      responsive: false,
      animation: false,
      events: [],
      layout: { autoPadding: false, padding: { left: fl, top: ft, right: w - fr, bottom: h - fb } },
      plugins: { legend: { display: false }, tooltip: { enabled: false } },
      scales: {
        x: { type: 'linear', display: false, min: p.xRange[0], max: p.xRange[1] },
        y: { type: 'linear', display: false, min: p.yRange[0], max: p.yRange[1] },
      },
    },
    plugins: [decor(p)],
  });
});
</script>
</body>
</html>
